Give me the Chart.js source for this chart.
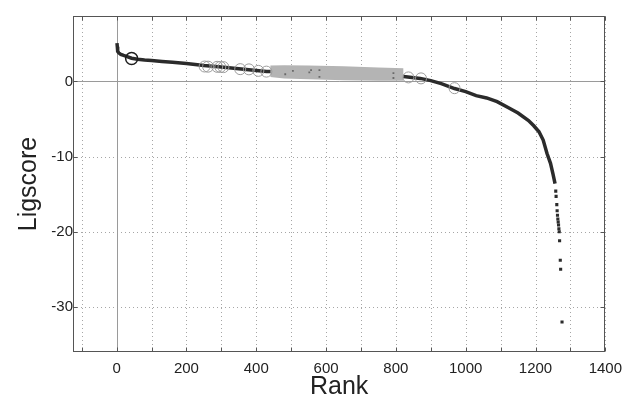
<!DOCTYPE html>
<html><head><meta charset="utf-8">
<script src="https://cdn.jsdelivr.net/npm/chart.js@4.4.1/dist/chart.umd.min.js"></script>
<style>html,body{margin:0;padding:0;background:#fff}#wrap{width:630px;height:402px;position:relative}</style>
</head><body><div id="wrap"><canvas id="c"></canvas></div>
<script>
// Main ranked curve (dense part)
const curveRank  = [1,2,3,6,12,20,30,43,60,80,100,130,160,200,250,300,350,400,430,470,520,600,700,780,822,840,870,900,930,968,1000,1030,1060,1090,1120,1150,1180,1195,1210,1222,1233,1243,1250,1256];
const curveScore = [5.1,4.6,4.0,3.8,3.6,3.45,3.3,3.08,2.95,2.85,2.78,2.65,2.55,2.38,2.1,1.9,1.68,1.45,1.33,1.3,1.2,1.1,0.95,0.8,0.65,0.55,0.4,0.1,-0.3,-0.95,-1.35,-1.9,-2.2,-2.7,-3.45,-4.2,-5.2,-5.9,-6.7,-7.8,-9.6,-10.9,-12.3,-13.6];
// Sparse tail points
const tailRank  = [1258,1259,1261,1262,1263,1264,1265,1266,1267,1268,1269,1271,1272,1276];
const tailScore = [-14.6,-15.3,-16.4,-17.2,-17.8,-18.3,-18.7,-19.1,-19.6,-20.0,-21.2,-23.8,-25.0,-32.0];
// Highlighted (open gray circles)
const circleRank  = [252,262,288,297,306,354,379,406,429,836,872,968];
const circleScore = [1.98,1.96,1.94,1.92,1.9,1.63,1.6,1.4,1.3,0.53,0.4,-0.9];
// Highlighted (black circle)
const blackRank  = [43];
const blackScore = [3.05];
// Dense highlighted band
const bandRank   = [440,480,550,650,750,822];
const bandTop    = [2.1,2.15,2.1,2.0,1.85,1.75];
const bandBottom = [0.6,0.4,0.3,0.15,0.1,0.1];
const bandDotRank  = [483,505,552,557,581,581,793,793];
const bandDotScore = [0.95,1.4,1.2,1.5,1.5,0.6,1.1,0.45];
// Axis ticks
const xTicks = [-100,0,100,200,300,400,500,600,700,800,900,1000,1100,1200,1300,1400];
const yTicks = [-30,-20,-10,0];

const pts = (xs, ys) => xs.map((v, i) => ({x: v, y: ys[i]}));
const FONT = "'Liberation Sans', Arial, Helvetica, sans-serif";

const gridPlugin = {
  id: 'gridPlugin',
  beforeDatasetsDraw(chart) {
    const {ctx, chartArea: a, scales: {x, y}} = chart;
    ctx.save();
    ctx.lineWidth = 1;
    ctx.strokeStyle = '#a6a6a6';
    ctx.setLineDash([1, 3]);
    xTicks.forEach(v => {
      if (v === 0) return;
      const px = Math.round(x.getPixelForValue(v)) + 0.5;
      ctx.beginPath(); ctx.moveTo(px, a.top); ctx.lineTo(px, a.bottom); ctx.stroke();
    });
    yTicks.forEach(v => {
      if (v === 0) return;
      const py = Math.round(y.getPixelForValue(v)) + 0.5;
      ctx.beginPath(); ctx.moveTo(a.left, py); ctx.lineTo(a.right, py); ctx.stroke();
    });
    ctx.setLineDash([]);
    ctx.strokeStyle = '#9a9a9a';
    const zx = Math.round(x.getPixelForValue(0)) + 0.5;
    const zy = Math.round(y.getPixelForValue(0)) + 0.5;
    ctx.beginPath(); ctx.moveTo(zx, a.top); ctx.lineTo(zx, a.bottom); ctx.stroke();
    ctx.beginPath(); ctx.moveTo(a.left, zy); ctx.lineTo(a.right, zy); ctx.stroke();
    ctx.restore();
  },
  afterDatasetsDraw(chart) {
    const {ctx, chartArea: a, scales: {x, y}} = chart;
    ctx.save();
    ctx.strokeStyle = '#555';
    ctx.lineWidth = 1;
    const L = Math.round(a.left) + 0.5, R = Math.round(a.right) - 0.5;
    const T = Math.round(a.top) + 0.5, B = Math.round(a.bottom) - 0.5;
    ctx.strokeRect(L, T, R - L, B - T);
    xTicks.forEach(v => {
      const px = Math.round(x.getPixelForValue(v)) + 0.5;
      ctx.beginPath(); ctx.moveTo(px, B); ctx.lineTo(px, B - 4); ctx.stroke();
      ctx.beginPath(); ctx.moveTo(px, T); ctx.lineTo(px, T + 4); ctx.stroke();
    });
    yTicks.forEach(v => {
      const py = Math.round(y.getPixelForValue(v)) + 0.5;
      ctx.beginPath(); ctx.moveTo(L, py); ctx.lineTo(L + 4, py); ctx.stroke();
      ctx.beginPath(); ctx.moveTo(R, py); ctx.lineTo(R - 4, py); ctx.stroke();
    });
    ctx.restore();
  }
};

new Chart(document.getElementById('c'), {
  type: 'scatter',
  data: {
    datasets: [
      {type: 'line', data: pts(bandRank, bandTop), fill: '+1', backgroundColor: '#b4b4b4',
       borderWidth: 0, borderColor: 'rgba(0,0,0,0)', pointRadius: 0, order: 3},
      {type: 'line', data: pts(bandRank, bandBottom), fill: false,
       borderWidth: 0, borderColor: 'rgba(0,0,0,0)', pointRadius: 0, order: 3},
      {data: pts(bandDotRank, bandDotScore), pointRadius: 1.3, pointStyle: 'rect',
       backgroundColor: '#6a6a6a', borderWidth: 0, order: 2},
      {data: pts(circleRank, circleScore), pointRadius: 5.5, backgroundColor: 'rgba(0,0,0,0)',
       borderColor: '#9c9c9c', borderWidth: 1, order: 1},
      {data: pts(blackRank, blackScore), pointRadius: 6, backgroundColor: 'rgba(0,0,0,0)',
       borderColor: '#1e1e1e', borderWidth: 1.5, order: 0},
      {type: 'line', data: pts(curveRank, curveScore), borderColor: '#2b2b2b', borderWidth: 3.5,
       pointRadius: 0, fill: false, tension: 0, order: 5},
      {data: pts(tailRank, tailScore), pointRadius: 2.2, pointStyle: 'rect',
       backgroundColor: '#2b2b2b', borderWidth: 0, order: 4}
    ]
  },
  options: {
    responsive: true,
    maintainAspectRatio: false,
    animation: false,
    layout: {padding: {top: 16, right: 18, left: 0, bottom: 0}},
    plugins: {legend: {display: false}, tooltip: {enabled: false}},
    scales: {
      x: {
        type: 'linear', min: -125, max: 1400,
        grid: {display: false, drawTicks: false}, border: {display: false},
        afterBuildTicks: s => { s.ticks = xTicks.map(v => ({value: v})); },
        afterFit: s => { s.height = 50; },
        ticks: {autoSkip: false, maxRotation: 0, padding: 8, color: '#222',
          font: {family: FONT, size: 15},
          callback: v => (v >= 0 && v % 200 === 0) ? String(v) : ''},
        title: {display: true, text: 'Rank', color: '#222',
          font: {family: FONT, size: 25, lineHeight: 1}, padding: {top: 0, bottom: 2}}
      },
      y: {
        type: 'linear', min: -36, max: 8.7,
        grid: {display: false, drawTicks: false}, border: {display: false},
        afterBuildTicks: s => { s.ticks = yTicks.map(v => ({value: v})); },
        afterFit: s => { s.width = 73; },
        ticks: {padding: 0, color: '#222', font: {family: FONT, size: 15},
          callback: v => String(v)},
        title: {display: true, text: 'Ligscore', color: '#222',
          font: {family: FONT, size: 25, lineHeight: 1}, padding: {top: 17, bottom: 0}}
      }
    }
  },
  plugins: [gridPlugin]
});
</script>
</body></html>
